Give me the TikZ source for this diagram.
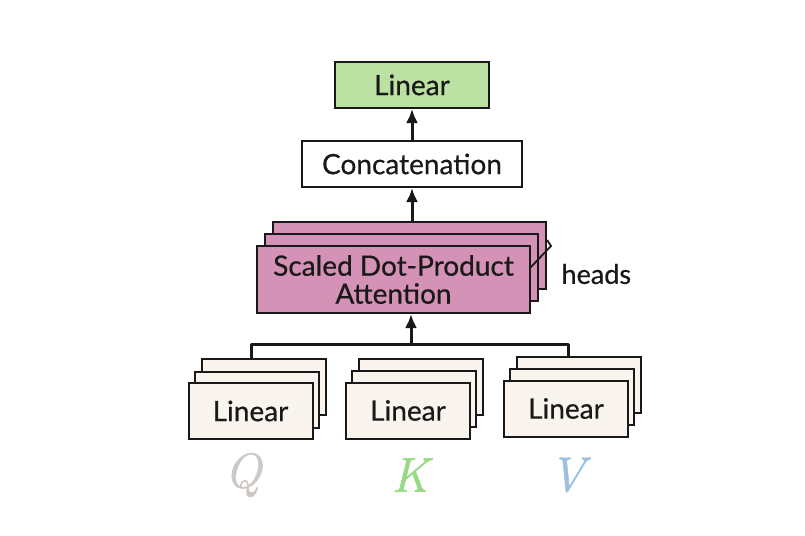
\documentclass[tikz,border=0pt]{standalone}
\usepackage{fontspec}
\setmainfont[FakeBold=0.5]{Lato}
\newfontfamily\lmr[FakeBold=1.2]{Latin Modern Roman}
\usetikzlibrary{arrows.meta}
\definecolor{linegreen}{RGB}{187,226,162}
\definecolor{attpink}{RGB}{212,146,182}
\definecolor{cream}{RGB}{249,245,238}
\definecolor{ink}{RGB}{25,25,25}
\definecolor{qcol}{RGB}{205,200,195}
\definecolor{kcol}{RGB}{150,218,130}
\definecolor{vcol}{RGB}{155,192,226}
\tikzset{
  box/.style={draw=ink, line width=2pt, inner sep=0pt, text=ink,
    font=\fontsize{28}{31}\selectfont, align=center},
  topbox/.style={box, fill=linegreen, minimum width=154pt, minimum height=46pt},
  catbox/.style={box, fill=white, minimum width=220pt, minimum height=46pt},
  attbox/.style={box, fill=attpink, minimum width=273pt, minimum height=67pt},
  linbox/.style={box, fill=cream, minimum width=124pt, minimum height=56pt},
  conn/.style={draw=ink, line width=3pt},
  arr/.style={conn, -{Latex[length=14pt,width=12pt]}},
  qkv/.style={font=\lmr\itshape\fontsize{49}{52}\selectfont}
}
\begin{document}
\begin{tikzpicture}[x=1pt,y=-1pt]
\useasboundingbox (0,0) rectangle (805,535);
% top
\node[topbox] (lin) at (412,85) {Linear};
\node[catbox] (cat) at (412,164) {Concatenation};
% attention stack
\node[attbox] (att3) at (409.5,255.5) {};
\node[attbox] (att2) at (401.5,267.5) {};
\node[attbox] (att1) at (393.5,279.5) {Scaled Dot-Product\\[-3pt]Attention};
\coordinate (h1) at (530,268);
\coordinate (h2) at (551,246);
\coordinate (h3) at (547,240);
\draw[draw=ink, line width=1.8pt] (h1) -- (h2) -- (h3);
\node[anchor=west, text=ink, font=\fontsize{27}{30}\selectfont] (heads) at (558,274) {heads};
% linear stacks
\node[linbox] (q3) at (263.5,387) {};
\node[linbox] (q2) at (256.5,400) {};
\node[linbox] (q1) at (250.5,411) {Linear};
\node[linbox] (k3) at (421,386.5) {};
\node[linbox] (k2) at (414,398.5) {};
\node[linbox] (k1) at (408,410.5) {Linear};
\node[linbox] (v3) at (579,384.5) {};
\node[linbox] (v2) at (572,396.5) {};
\node[linbox] (v1) at (566,408.5) {Linear};
% connectors
\coordinate (jl) at (251,344);
\coordinate (jr) at (568,344);
\coordinate (jm) at (411,344);
\draw[conn, line join=round] (jl |- q3.north) -- (jl) -- (jr) -- (jr |- v3.north);
\draw[arr] (jm) -- (jm |- att1.south);
\draw[arr] (cat.south |- att3.north) -- (cat.south);
\draw[arr] (cat.north) -- (lin.south);
% QKV
\node[qkv, text=qcol] (Q) at (243,475) {Q};
\node[qkv, text=kcol] (K) at (410,475) {K};
\node[qkv, text=vcol] (V) at (567,475) {V};
\end{tikzpicture}
\end{document}
